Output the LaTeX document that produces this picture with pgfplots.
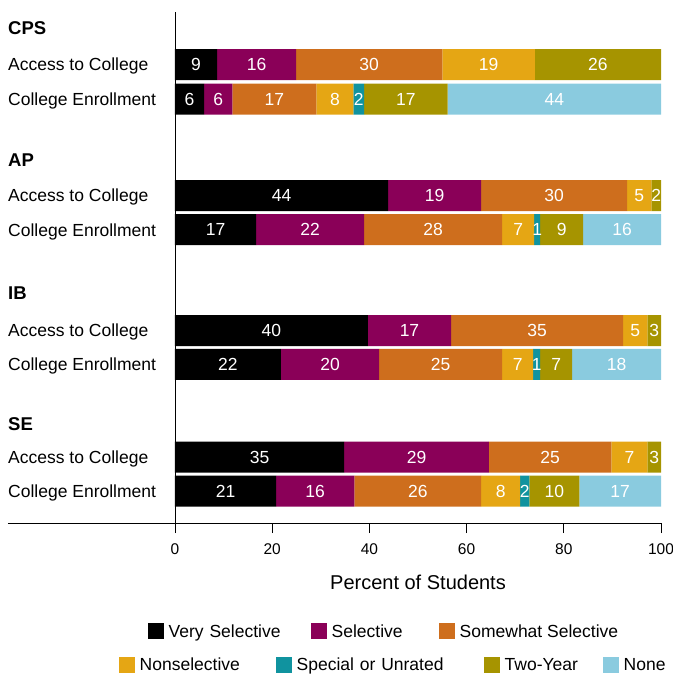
\documentclass[border=0pt]{standalone}
\usepackage{fontspec}
\setmainfont{Liberation Sans}
\usepackage{pgfplots}
\pgfplotsset{compat=1.18}

\definecolor{cVery}{HTML}{000000}
\definecolor{cSel}{HTML}{8A0058}
\definecolor{cSome}{HTML}{CE6E1D}
\definecolor{cNon}{HTML}{E5A614}
\definecolor{cSpec}{HTML}{10939F}
\definecolor{cTwo}{HTML}{A69400}
\definecolor{cNone}{HTML}{8ACBDF}

\newcommand{\fs}[1]{\fontsize{#1}{#1}\selectfont}
\newcommand{\hd}[1]{{\fs{18.5bp}\bfseries #1}}

\pgfplotsset{
  base/.style={
    scale only axis, width=486bp, height=511bp,
    xmin=0, xmax=100, ymin=12, ymax=523, y dir=reverse,
  },
  seg/.style={fill=#1, draw=none,
    legend image code/.code={\fill[#1] (0bp,-8bp) rectangle (16bp,8bp);}},
  leg/.style={draw=none, fill=none, inner sep=0pt, font=\fs{17.5bp},
    nodes={inner xsep=4.5bp, inner ysep=0pt}, legend cell align=left},
}

\begin{document}
\begin{tikzpicture}
\begin{axis}[base, name=main,
  xbar stacked, bar width=31,
  axis lines=left, axis line style={-, line width=0.8bp},
  x axis line style={shorten <=-167bp},
  xtick={0,20,...,100}, tick align=outside, major tick length=10bp,
  xtick style={line width=0.8bp, black},
  ytick={28,64.5,99,160,195.5,229.7,293.3,330.5,364.3,424.5,457,491},
  yticklabels={\hd{CPS},Access to College,College Enrollment,
               \hd{AP},Access to College,College Enrollment,
               \hd{IB},Access to College,College Enrollment,
               \hd{SE},Access to College,College Enrollment},
  ytick style={draw=none},
  yticklabel style={anchor=west, xshift=-157bp, inner xsep=0pt, font=\fs{17.5bp},
    text height=12.6bp, text depth=0pt},
  xticklabel style={font=\fs{15.5bp}, yshift=-7bp},
  /pgf/number format/assume math mode=true,
  xlabel={Percent of Students},
  xlabel style={font=\fs{20bp}, at={(axis description cs:0.5,-0.1155)}, anchor=center},
  legend style={leg, at={(axis description cs:-0.0556,-0.2123)}, anchor=west},
  legend columns=3,
  legend style={/tikz/column 2/.style={nodes={text width=138bp}},
                /tikz/column 4/.style={nodes={text width=103bp}}},
]
\addplot[seg=cVery] coordinates {(8.65,64.5) (6.0,99) (43.85,195.5) (16.7,229.7) (39.7,330.5) (21.8,364.3) (34.8,457) (20.8,491)};
\addplot[seg=cSel] coordinates {(16.25,64.5) (5.8,99) (19.15,195.5) (22.2,229.7) (17.1,330.5) (20.2,364.3) (29.8,457) (16.1,491)};
\addplot[seg=cSome] coordinates {(30.1,64.5) (17.3,99) (30.05,195.5) (28.4,229.7) (35.4,330.5) (25.3,364.3) (25.2,457) (26.1,491)};
\addplot[seg=cNon] coordinates {(19.05,64.5) (7.6,99) (4.95,195.5) (6.6,229.7) (5.0,330.5) (6.4,364.3) (7.4,457) (8.0,491)};
\addplot[seg=cSpec] coordinates {(0,64.5) (2.2,99) (0,195.5) (1.25,229.7) (0,330.5) (1.45,364.3) (0,457) (1.9,491)};
\addplot[seg=cTwo] coordinates {(25.95,64.5) (17.2,99) (2.0,195.5) (8.85,229.7) (2.8,330.5) (6.55,364.3) (2.8,457) (10.3,491)};
\addplot[seg=cNone] coordinates {(0,64.5) (43.9,99) (0,195.5) (16.0,229.7) (0,330.5) (18.3,364.3) (0,457) (16.8,491)};
\legend{Very Selective, Selective, Somewhat Selective}
\end{axis}

% value labels and second legend row
\begin{axis}[base, at={(main.south west)}, anchor=south west, hide axis, clip=false,
  legend style={leg, at={(axis description cs:-0.1152,-0.2779)}, anchor=west},
  legend columns=4,
  legend style={/tikz/column 2/.style={nodes={text width=132bp}},
                /tikz/column 4/.style={nodes={text width=183bp}},
                /tikz/column 6/.style={nodes={text width=94bp}}},
]
\addplot[draw=none, mark=none, forget plot, nodes near coords, point meta=explicit symbolic,
  nodes near coords align={center},
  every node near coord/.append style={text=white, font=\fs{17.5bp}, anchor=center,
    inner sep=0pt, text height=12.5bp, text depth=0pt}]
coordinates {
  (4.325,64.5) [9] (16.775,64.5) [16] (39.95,64.5) [30] (64.525,64.5) [19] (87.025,64.5) [26]
  (3.0,99) [6] (8.9,99) [6] (20.45,99) [17] (32.9,99) [8] (37.8,99) [2] (47.5,99) [17] (78.05,99) [44]
  (21.925,195.5) [44] (53.425,195.5) [19] (78.025,195.5) [30] (95.525,195.5) [5] (99.0,195.5) [2]
  (8.35,229.7) [17] (27.8,229.7) [22] (53.1,229.7) [28] (70.6,229.7) [7] (74.525,229.7) [1] (79.575,229.7) [9] (92.0,229.7) [16]
  (19.85,330.5) [40] (48.25,330.5) [17] (74.5,330.5) [35] (94.7,330.5) [5] (98.6,330.5) [3]
  (10.9,364.3) [22] (31.9,364.3) [20] (54.65,364.3) [25] (70.5,364.3) [7] (74.425,364.3) [1] (78.425,364.3) [7] (90.85,364.3) [18]
  (17.4,457) [35] (49.7,457) [29] (77.2,457) [25] (93.5,457) [7] (98.6,457) [3]
  (10.4,491) [21] (28.85,491) [16] (49.95,491) [26] (67.0,491) [8] (71.95,491) [2] (78.05,491) [10] (91.6,491) [17]
};
\addlegendimage{seg=cNon}
\addlegendimage{seg=cSpec}
\addlegendimage{seg=cTwo}
\addlegendimage{seg=cNone}
\legend{Nonselective, Special or Unrated, Two-Year, None}
\end{axis}

\pgfresetboundingbox
\path[use as bounding box] ([shift={(-175bp,12bp)}]main.north west) rectangle ([shift={(12bp,-152bp)}]main.south east);
\end{tikzpicture}
\end{document}
